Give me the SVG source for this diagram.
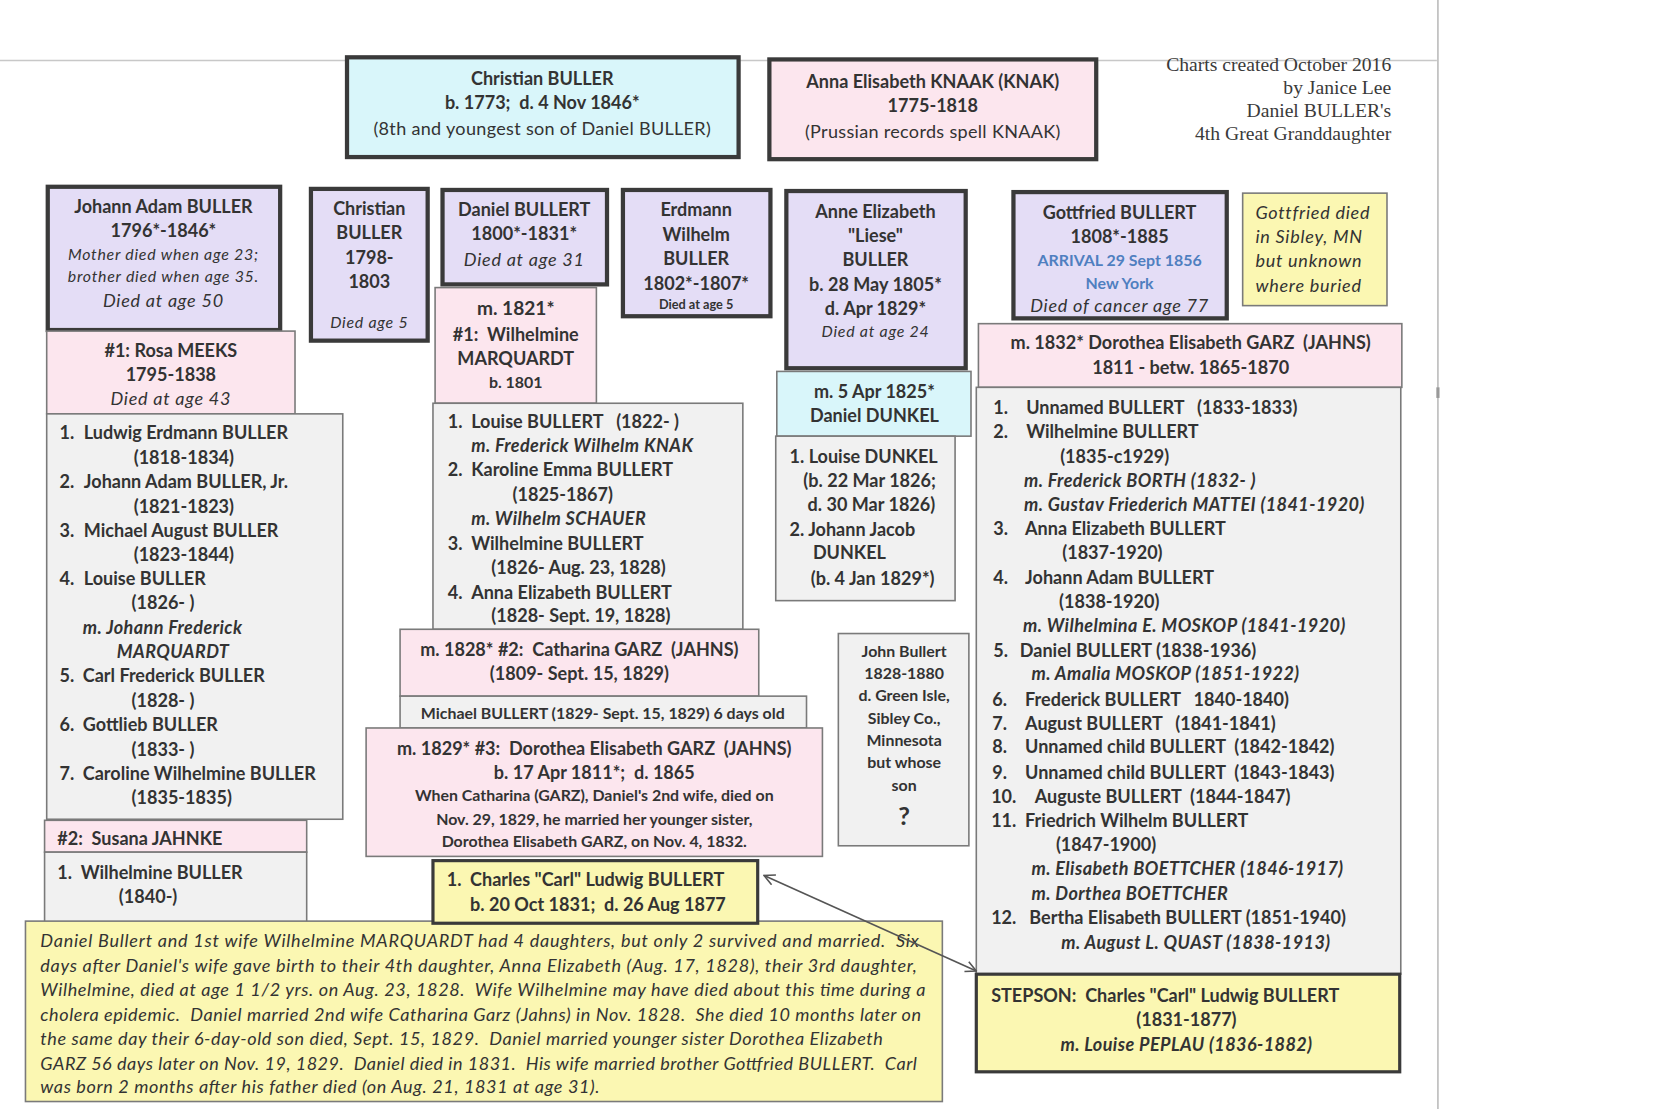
<svg xmlns="http://www.w3.org/2000/svg" width="1664" height="1109" viewBox="0 0 1664 1109" xml:space="preserve">
<style>
text{font-family:Lato,"Open Sans","Liberation Sans",sans-serif;fill:#333;font-size:17px;font-weight:bold;white-space:pre}
.c{text-anchor:middle}
.i{font-style:italic;font-weight:normal;letter-spacing:0.7px}
.note{font-style:italic;font-weight:normal}
.bi{font-style:italic;font-weight:bold;letter-spacing:0.4px}
.r{font-weight:normal;letter-spacing:0.3px}
.s15{font-size:15px}
.s12{font-size:12px}
.blue{fill:#4f7fc0}
.serif{font-family:"Liberation Serif","Times New Roman",serif;font-weight:normal;font-size:18.5px;text-anchor:end;fill:#3a3a3a}
.thick{stroke:#3a3a3a;stroke-width:4}
.thin{stroke:#7a7a7a;stroke-width:1.5}
.dbl{stroke:#3a3a3a;stroke-width:3}
.cyan{fill:#d9f6fa}.pink{fill:#fce6ee}.lav{fill:#e4ddf6}.grey{fill:#f1f1f1}.yel{fill:#fbf7b2}
.ln{stroke:#555;stroke-width:1.5;fill:none}
</style>
<defs>
<marker id="ah" viewBox="0 0 12 12" refX="11" refY="6" markerWidth="12" markerHeight="12" orient="auto-start-reverse" markerUnits="userSpaceOnUse">
<path d="M1,1 L11,6 L1,11" fill="none" stroke="#555" stroke-width="1.5"/>
</marker>
</defs>
<rect width="1664" height="1109" fill="#fff"/>
<g transform="scale(1.0612)">
<line x1="0" y1="57" x2="1354" y2="57" stroke="#c8c8c8" stroke-width="1.5"/>
<line x1="1355" y1="0" x2="1355" y2="1045" stroke="#bbb" stroke-width="1.5"/>
<line x1="1355" y1="365" x2="1355" y2="375" stroke="#999" stroke-width="3"/>

<g id="credits">
<text class="serif" x="1311" y="67">Charts created October 2016</text>
<text class="serif" x="1311" y="89">by Janice Lee</text>
<text class="serif" x="1311" y="110">Daniel BULLER's</text>
<text class="serif" x="1311" y="132">4th Great Granddaughter</text>
</g>

<g id="christian-sr">
<rect class="cyan thick" x="327" y="54" width="369" height="94"/>
<text class="c" x="511" y="80">Christian BULLER</text>
<text class="c" x="511" y="103">b. 1773;  d. 4 Nov 1846*</text>
<text class="c r" x="511" y="127">(8th and youngest son of Daniel BULLER)</text>
</g>

<g id="anna-knaak">
<rect class="pink thick" x="725" y="56" width="308" height="94"/>
<text class="c" x="879" y="83">Anna Elisabeth KNAAK (KNAK)</text>
<text class="c" x="879" y="106">1775-1818</text>
<text class="c r" x="879" y="130">(Prussian records spell KNAAK)</text>
</g>

<g id="johann-adam">
<rect class="lav thick" x="45" y="176" width="219" height="135"/>
<text class="c" x="154" y="201">Johann Adam BULLER</text>
<text class="c" x="154" y="223">1796*-1846*</text>
<text class="c i s15" x="154" y="245">Mother died when age 23;</text>
<text class="c i s15" x="154" y="266">brother died when age 35.</text>
<text class="c i" x="154" y="289">Died at age 50</text>
</g>

<g id="rosa-meeks">
<rect class="pink thin" x="44" y="312" width="234" height="78"/>
<text class="c" x="161" y="336">#1: Rosa MEEKS</text>
<text class="c" x="161" y="359">1795-1838</text>
<text class="c i" x="161" y="382">Died at age 43</text>
</g>

<g id="johann-children-1">
<rect class="grey thin" x="44" y="390" width="279" height="382"/>
<text x="56" y="414">1.</text><text x="79" y="414">Ludwig Erdmann BULLER</text>
<text x="126" y="437">(1818-1834)</text>
<text x="56" y="460">2.</text><text x="79" y="460">Johann Adam BULLER, Jr.</text>
<text x="126" y="483">(1821-1823)</text>
<text x="56" y="506">3.</text><text x="79" y="506">Michael August BULLER</text>
<text x="126" y="529">(1823-1844)</text>
<text x="56" y="551">4.</text><text x="79" y="551">Louise BULLER</text>
<text x="124" y="574">(1826- )</text>
<text class="bi" x="78" y="597">m. Johann Frederick</text>
<text class="bi" x="110" y="620">MARQUARDT</text>
<text x="56" y="643">5.</text><text x="78" y="643">Carl Frederick BULLER</text>
<text x="124" y="666">(1828- )</text>
<text x="56" y="689">6.</text><text x="78" y="689">Gottlieb BULLER</text>
<text x="124" y="712">(1833- )</text>
<text x="56" y="735">7.</text><text x="78" y="735">Caroline Wilhelmine BULLER</text>
<text x="124" y="758">(1835-1835)</text>
</g>

<g id="susana-jahnke">
<rect class="pink thin" x="42" y="773" width="247" height="30"/>
<text x="54" y="796">#2:  Susana JAHNKE</text>
</g>

<g id="johann-children-2">
<rect class="grey thin" x="42" y="803" width="247" height="66"/>
<text x="54" y="828">1.</text><text x="76" y="828">Wilhelmine BULLER</text>
<text x="112" y="851">(1840-)</text>
</g>

<g id="christian-jr">
<rect class="lav thick" x="293" y="178" width="110" height="143"/>
<text class="c" x="348" y="203">Christian</text>
<text class="c" x="348" y="225">BULLER</text>
<text class="c" x="348" y="249">1798-</text>
<text class="c" x="348" y="271">1803</text>
<text class="c i s15" x="348" y="309">Died age 5</text>
</g>

<g id="daniel-bullert">
<rect class="lav thick" x="417" y="179" width="155" height="89"/>
<text class="c" x="494" y="204">Daniel BULLERT</text>
<text class="c" x="494" y="226">1800*-1831*</text>
<text class="c i" x="494" y="251">Died at age 31</text>
</g>

<g id="wilhelmine-marquardt">
<rect class="pink thin" x="410" y="271" width="152" height="109"/>
<text class="c" x="486" y="297" style="font-size:18px">m. 1821*</text>
<text class="c" x="486" y="321">#1:  Wilhelmine</text>
<text class="c" x="486" y="344">MARQUARDT</text>
<text class="c s15" x="486" y="366">b. 1801</text>
</g>

<g id="daniel-children-1">
<rect class="grey thin" x="408" y="380" width="292" height="213"/>
<text x="422" y="403">1.</text><text x="444" y="403">Louise BULLERT   (1822- )</text>
<text class="bi" x="444" y="426">m. Frederick Wilhelm KNAK</text>
<text x="422" y="449">2.</text><text x="444" y="449">Karoline Emma BULLERT</text>
<text x="483" y="472">(1825-1867)</text>
<text class="bi" x="444" y="495">m. Wilhelm SCHAUER</text>
<text x="422" y="518">3.</text><text x="444" y="518">Wilhelmine BULLERT</text>
<text x="463" y="541">(1826- Aug. 23, 1828)</text>
<text x="422" y="564">4.</text><text x="444" y="564">Anna Elizabeth BULLERT</text>
<text x="463" y="586">(1828- Sept. 19, 1828)</text>
</g>

<g id="catharina-garz">
<rect class="pink thin" x="377" y="593" width="338" height="63"/>
<text class="c" x="546" y="618">m. 1828* #2:  Catharina GARZ  (JAHNS)</text>
<text class="c" x="546" y="641">(1809- Sept. 15, 1829)</text>
</g>

<g id="michael-bullert">
<rect class="grey thin" x="377" y="656" width="383" height="30"/>
<text class="c s15" x="568" y="678">Michael BULLERT (1829- Sept. 15, 1829) 6 days old</text>
</g>

<g id="dorothea-garz-3">
<rect class="pink thin" x="345" y="686" width="430" height="121"/>
<text class="c" x="560" y="711">m. 1829* #3:  Dorothea Elisabeth GARZ  (JAHNS)</text>
<text class="c" x="560" y="734">b. 17 Apr 1811*;  d. 1865</text>
<text class="c s15" x="560" y="755">When Catharina (GARZ), Daniel's 2nd wife, died on</text>
<text class="c s15" x="560" y="777">Nov. 29, 1829, he married her younger sister,</text>
<text class="c s15" x="560" y="798">Dorothea Elisabeth GARZ, on Nov. 4, 1832.</text>
</g>

<g id="note-daniel">
<rect class="yel thin" x="24" y="868" width="864" height="170"/>
<text class="note" x="38" y="892" textLength="828" lengthAdjust="spacing">Daniel Bullert and 1st wife Wilhelmine MARQUARDT had 4 daughters, but only 2 survived and married.  Six</text>
<text class="note" x="38" y="916" textLength="826" lengthAdjust="spacing">days after Daniel's wife gave birth to their 4th daughter, Anna Elizabeth (Aug. 17, 1828), their 3rd daughter,</text>
<text class="note" x="38" y="939" textLength="834" lengthAdjust="spacing">Wilhelmine, died at age 1 1/2 yrs. on Aug. 23, 1828.  Wife Wilhelmine may have died about this time during a</text>
<text class="note" x="38" y="962" textLength="830" lengthAdjust="spacing">cholera epidemic.  Daniel married 2nd wife Catharina Garz (Jahns) in Nov. 1828.  She died 10 months later on</text>
<text class="note" x="38" y="985" textLength="794" lengthAdjust="spacing">the same day their 6-day-old son died, Sept. 15, 1829.  Daniel married younger sister Dorothea Elizabeth</text>
<text class="note" x="38" y="1008" textLength="826" lengthAdjust="spacing">GARZ 56 days later on Nov. 19, 1829.  Daniel died in 1831.  His wife married brother Gottfried BULLERT.  Carl</text>
<text class="note" x="38" y="1030" textLength="527" lengthAdjust="spacing">was born 2 months after his father died (on Aug. 21, 1831 at age 31).</text>
</g>

<g id="charles-carl">
<rect class="yel dbl" x="408" y="811" width="306" height="59"/>
<text x="421" y="835">1.</text><text x="443" y="835">Charles "Carl" Ludwig BULLERT</text>
<text x="443" y="858">b. 20 Oct 1831;  d. 26 Aug 1877</text>
</g>

<g id="erdmann-wilhelm">
<rect class="lav thick" x="587" y="179" width="139" height="119"/>
<text class="c" x="656" y="204">Erdmann</text>
<text class="c" x="656" y="227">Wilhelm</text>
<text class="c" x="656" y="250">BULLER</text>
<text class="c" x="656" y="273">1802*-1807*</text>
<text class="c s12" x="656" y="291">Died at age 5</text>
</g>

<g id="anne-elizabeth">
<rect class="lav thick" x="741" y="180" width="169" height="167"/>
<text class="c" x="825" y="205">Anne Elizabeth</text>
<text class="c" x="825" y="228">"Liese"</text>
<text class="c" x="825" y="251">BULLER</text>
<text class="c" x="825" y="274">b. 28 May 1805*</text>
<text class="c" x="825" y="297">d. Apr 1829*</text>
<text class="c i s15" x="825" y="318">Died at age 24</text>
</g>

<g id="daniel-dunkel">
<rect class="cyan thin" x="732" y="350" width="183" height="61"/>
<text class="c" x="824" y="375">m. 5 Apr 1825*</text>
<text class="c" x="824" y="398">Daniel DUNKEL</text>
</g>

<g id="dunkel-children">
<rect class="grey thin" x="731" y="411" width="169" height="155"/>
<text x="744" y="436">1. Louise DUNKEL</text>
<text x="757" y="459">(b. 22 Mar 1826;</text>
<text x="761" y="482">d. 30 Mar 1826)</text>
<text x="744" y="505">2. Johann Jacob</text>
<text x="766" y="527">DUNKEL</text>
<text x="764" y="551">(b. 4 Jan 1829*)</text>
</g>

<g id="john-bullert">
<rect class="grey thin" x="790" y="597" width="123" height="200"/>
<text class="c s15" x="852" y="619">John Bullert</text>
<text class="c s15" x="852" y="640">1828-1880</text>
<text class="c s15" x="852" y="661">d. Green Isle,</text>
<text class="c s15" x="852" y="682">Sibley Co.,</text>
<text class="c s15" x="852" y="703">Minnesota</text>
<text class="c s15" x="852" y="724">but whose</text>
<text class="c s15" x="852" y="745">son</text>
<text class="c" x="852" y="777" style="font-size:24px">?</text>
</g>

<g id="gottfried-bullert">
<rect class="lav thick" x="955" y="181" width="201" height="119"/>
<text class="c" x="1055" y="206">Gottfried BULLERT</text>
<text class="c" x="1055" y="229">1808*-1885</text>
<text class="c s15 blue" x="1055" y="251">ARRIVAL 29 Sept 1856</text>
<text class="c s15 blue" x="1055" y="272">New York</text>
<text class="c i" x="1055" y="294">Died of cancer age 77</text>
</g>

<g id="gottfried-note">
<rect class="yel thin" x="1171" y="182" width="136" height="106"/>
<text class="i" x="1183" y="206">Gottfried died</text>
<text class="i" x="1183" y="229">in Sibley, MN</text>
<text class="i" x="1183" y="252">but unknown</text>
<text class="i" x="1183" y="275">where buried</text>
</g>

<g id="dorothea-garz-gottfried">
<rect class="pink thin" x="922" y="305" width="399" height="60"/>
<text class="c" x="1122" y="329">m. 1832* Dorothea Elisabeth GARZ  (JAHNS)</text>
<text class="c" x="1122" y="352">1811 - betw. 1865-1870</text>
</g>

<g id="gottfried-children">
<rect class="grey thin" x="920" y="365" width="400" height="553"/>
<text x="936" y="390">1.</text><text x="967" y="390">Unnamed BULLERT   (1833-1833)</text>
<text x="936" y="413">2.</text><text x="967" y="413">Wilhelmine BULLERT</text>
<text x="999" y="436">(1835-c1929)</text>
<text class="bi" x="965" y="459">m. Frederick BORTH (1832- )</text>
<text class="bi" x="965" y="482">m. Gustav Friederich MATTEI (1841-1920)</text>
<text x="936" y="504">3.</text><text x="966" y="504">Anna Elizabeth BULLERT</text>
<text x="1001" y="527">(1837-1920)</text>
<text x="936" y="550">4.</text><text x="966" y="550">Johann Adam BULLERT</text>
<text x="998" y="573">(1838-1920)</text>
<text class="bi" x="964" y="596">m. Wilhelmina E. MOSKOP (1841-1920)</text>
<text x="936" y="619">5.</text><text x="961" y="619">Daniel BULLERT (1838-1936)</text>
<text class="bi" x="972" y="641">m. Amalia MOSKOP (1851-1922)</text>
<text x="935" y="665">6.</text><text x="966" y="665">Frederick BULLERT   1840-1840)</text>
<text x="935" y="688">7.</text><text x="966" y="688">August BULLERT   (1841-1841)</text>
<text x="935" y="710">8.</text><text x="966" y="710">Unnamed child BULLERT  (1842-1842)</text>
<text x="935" y="734">9.</text><text x="966" y="734">Unnamed child BULLERT  (1843-1843)</text>
<text x="934" y="757">10.</text><text x="975" y="757">Auguste BULLERT  (1844-1847)</text>
<text x="934" y="779">11.</text><text x="966" y="779">Friedrich Wilhelm BULLERT</text>
<text x="995" y="802">(1847-1900)</text>
<text class="bi" x="972" y="825">m. Elisabeth BOETTCHER (1846-1917)</text>
<text class="bi" x="972" y="848">m. Dorthea BOETTCHER</text>
<text x="934" y="871">12.</text><text x="970" y="871">Bertha Elisabeth BULLERT (1851-1940)</text>
<text class="bi" x="1000" y="894">m. August L. QUAST (1838-1913)</text>
</g>

<g id="stepson">
<rect class="yel dbl" x="920" y="918" width="399" height="92"/>
<text x="934" y="944">STEPSON:  Charles "Carl" Ludwig BULLERT</text>
<text class="c" x="1118" y="967">(1831-1877)</text>
<text class="c bi" x="1118" y="990">m. Louise PEPLAU (1836-1882)</text>
</g>

<g id="connectors">
<line class="ln" x1="720" y1="825" x2="920" y2="915" marker-start="url(#ah)" marker-end="url(#ah)"/>
</g>
</g>
</svg>
